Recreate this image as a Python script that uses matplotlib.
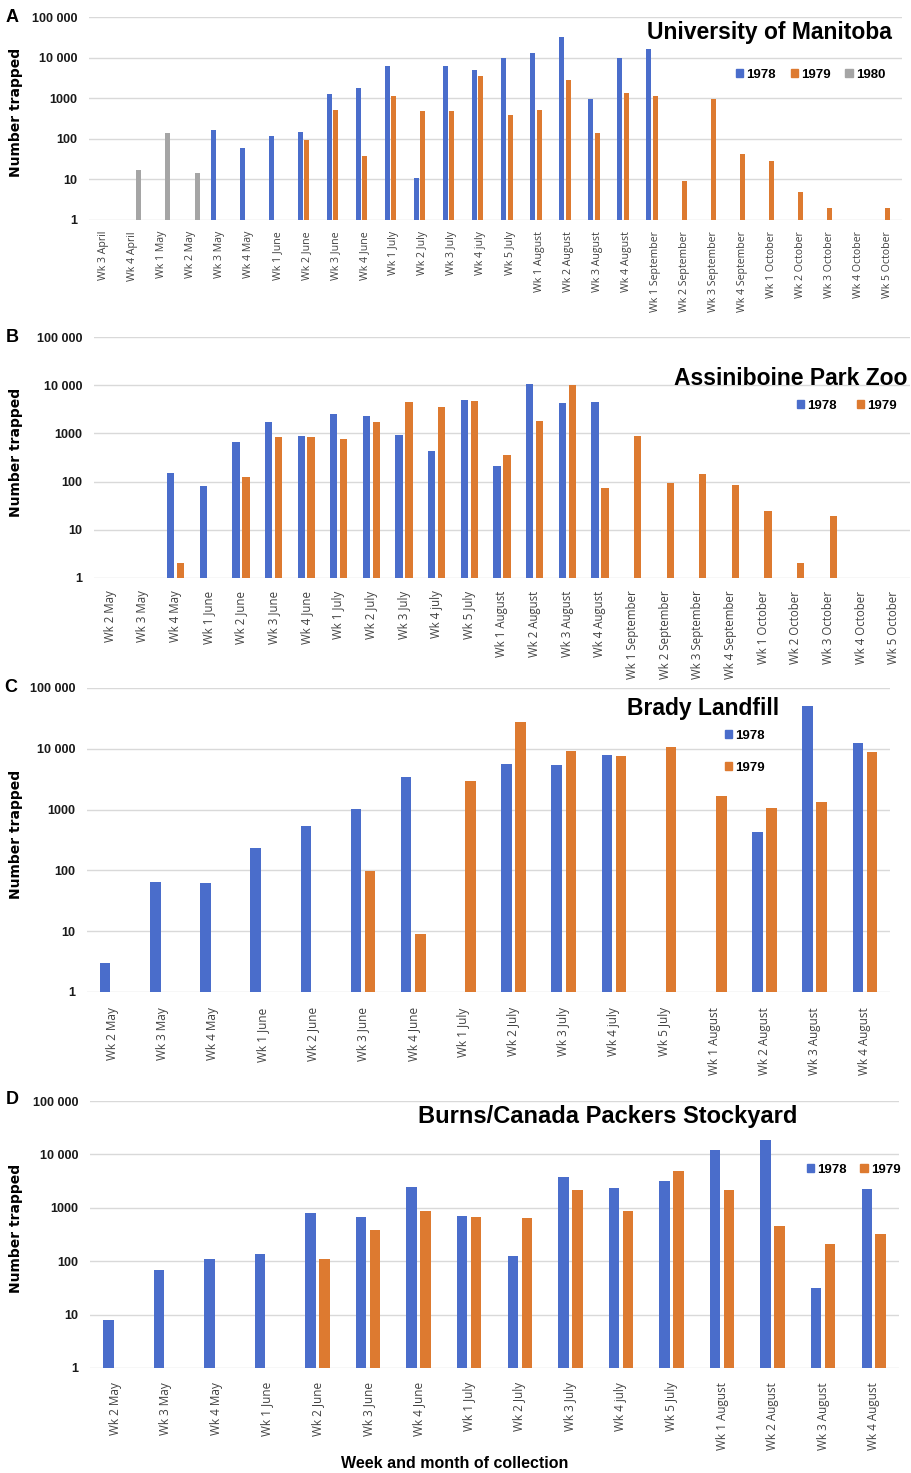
import numpy as np
import matplotlib
matplotlib.use("Agg")
import matplotlib.pyplot as plt
from matplotlib.patches import Patch
from matplotlib.ticker import NullLocator

nan = np.nan

# ---------------- data ----------------
weeks_A = ["Wk 3 April", "Wk 4 April", "Wk 1 May", "Wk 2 May", "Wk 3 May", "Wk 4 May",
           "Wk 1 June", "Wk 2 June", "Wk 3 June", "Wk 4 June", "Wk 1 July", "Wk 2 July",
           "Wk 3 July", "Wk 4 july", "Wk 5 July", "Wk 1 August", "Wk 2 August",
           "Wk 3 August", "Wk 4 August", "Wk 1 September", "Wk 2 September",
           "Wk 3 September", "Wk 4 September", "Wk 1 October", "Wk 2 October",
           "Wk 3 October", "Wk 4 October", "Wk 5 October"]
A_1978 = [nan, nan, nan, nan, 161, 60, 119, 146, 1250, 1820, 6300, 11, 6300, 4950, 9900,
          12900, 31800, 960, 9550, 16200, nan, nan, nan, nan, nan, nan, nan, nan]
A_1979 = [nan, nan, nan, nan, nan, nan, nan, 95, 525, 37, 1140, 480, 480, 3560, 390,
          515, 2800, 141, 1340, 1140, 9, 960, 43, 28, 5, 2, nan, 2]
A_1980 = [nan, 17, 141, 14, nan, nan, nan, nan, nan, nan, nan, nan, nan, nan, nan,
          nan, nan, nan, nan, nan, nan, nan, nan, nan, nan, nan, nan, nan]

weeks_B = ["Wk 2 May", "Wk 3 May", "Wk 4 May", "Wk 1 June", "Wk 2 June", "Wk 3 June",
           "Wk 4 June", "Wk 1 July", "Wk 2 July", "Wk 3 July", "Wk 4 july", "Wk 5 July",
           "Wk 1 August", "Wk 2 August", "Wk 3 August", "Wk 4 August", "Wk 1 September",
           "Wk 2 September", "Wk 3 September", "Wk 4 September", "Wk 1 October",
           "Wk 2 October", "Wk 3 October", "Wk 4 October", "Wk 5 October"]
B_1978 = [nan, nan, 150, 80, 650, 1700, 900, 2530, 2250, 930, 440, 5000, 215, 10700,
          4350, 4470, nan, nan, nan, nan, nan, nan, nan, nan, nan]
B_1979 = [nan, nan, 2, nan, 125, 850, 850, 765, 1750, 4400, 3600, 4700, 360, 1780,
          10000, 74, 870, 92, 146, 84, 25, 2, 19, nan, nan]

weeks_CD = ["Wk 2 May", "Wk 3 May", "Wk 4 May", "Wk 1 June", "Wk 2 June", "Wk 3 June",
            "Wk 4 June", "Wk 1 July", "Wk 2 July", "Wk 3 July", "Wk 4 july", "Wk 5 July",
            "Wk 1 August", "Wk 2 August", "Wk 3 August", "Wk 4 August"]
C_1978 = [3, 64, 61, 233, 540, 1040, 3500, nan, 5560, 5400, 7900, nan, nan, 430, 50000, 12400]
C_1979 = [nan, nan, nan, nan, nan, 98, 9, 3000, 28000, 9200, 7700, 10800, 1700, 1070, 1350, 8900]

D_1978 = [8, 67, 108, 138, 790, 660, 2430, 710, 126, 3850, 2350, 3110, 12000, 19000, 32, 2260]
D_1979 = [nan, nan, nan, nan, 109, 390, 880, 665, 645, 2200, 880, 4980, 2200, 465, 208, 320]

ytick_vals = [1, 10, 100, 1000, 10000, 100000]
ytick_text = ["1", "10", "100", "1000", "10 000", "100 000"]

BLUE = "#4A6DCB"
ORANGE = "#DD7A30"
GRAY = "#A5A5A5"

W, H = 911, 1473
fig = plt.figure(figsize=(W / 100, H / 100), dpi=100)
fig.patch.set_facecolor("white")

BOLD = "Liberation Sans"


def rect(x0, x1, ytop, ybot):
    return [x0 / W, 1 - ybot / H, (x1 - x0) / W, (ybot - ytop) / H]


def setup(ax, cats, xfs, xpad):
    ax.set_yscale("log")
    ax.set_ylim(1, 1e5)
    ax.set_xlim(-0.5, len(cats) - 0.5)
    ax.set_yticks(ytick_vals)
    ax.set_yticklabels(ytick_text, fontsize=9, fontweight="bold", family=BOLD, color="#1a1a1a")
    ax.yaxis.set_minor_locator(NullLocator())
    ax.set_xticks(np.arange(len(cats)))
    ax.set_xticklabels(cats, rotation=90, fontsize=xfs, family="Open Sans", color="#404040",
                       va="top", ha="center")
    ax.grid(axis="y", color="#D9D9D9", lw=1.0)
    ax.set_axisbelow(True)
    for s in ax.spines.values():
        s.set_visible(False)
    ax.tick_params(axis="both", length=0)
    ax.tick_params(axis="y", pad=8.5)
    ax.tick_params(axis="x", pad=xpad)


def ylab(x, y):
    fig.text(x / W, 1 - y / H, "Number trapped", rotation=90, ha="center", va="center",
             fontsize=10, fontweight="bold", family="DejaVu Sans")


def letter(x, y, s):
    fig.text(x / W, 1 - y / H, s, ha="left", va="center", fontsize=13, fontweight="bold",
             family=BOLD)


def legend(ax, handles, labels, x, y, ncol, colsp, lsp=0.5):
    ax.legend(handles, labels, loc="center left", bbox_to_anchor=(x / W, 1 - y / H),
              bbox_transform=fig.transFigure, ncol=ncol, frameon=False, borderpad=0,
              borderaxespad=0, handlelength=0.55, handleheight=0.55, handletextpad=0.25,
              columnspacing=colsp, labelspacing=lsp,
              prop={"family": BOLD, "weight": "bold", "size": 9.5})


# ---------------- Panel A ----------------
axA = fig.add_axes(rect(89, 902, 17, 220))
xA = np.arange(len(weeks_A))
wA, oA = 0.172, 0.22
axA.bar(xA - oA, A_1978, width=wA, color=BLUE)
axA.bar(xA, A_1979, width=wA, color=ORANGE)
axA.bar(xA + oA, A_1980, width=wA, color=GRAY)
setup(axA, weeks_A, 7.6, 8)
fig.text(892 / W, 1 - 33 / H, "University of Manitoba", ha="right", va="center",
         fontsize=16.5, fontweight="bold", family=BOLD)
legend(axA, [Patch(color=BLUE), Patch(color=ORANGE), Patch(color=GRAY)],
       ["1978", "1979", "1980"], 736, 75, 3, 1.1)
letter(6, 17, "A")
ylab(16, 112)

# ---------------- Panel B ----------------
axB = fig.add_axes(rect(94, 910, 337, 578))
xB = np.arange(len(weeks_B))
wB, oB = 0.224, 0.153
axB.bar(xB - oB, B_1978, width=wB, color=BLUE)
axB.bar(xB + oB, B_1979, width=wB, color=ORANGE)
setup(axB, weeks_B, 8.3, 9)
fig.text(907 / W, 1 - 378 / H, "Assiniboine Park Zoo", ha="right", va="center",
         fontsize=16.5, fontweight="bold", family=BOLD)
legend(axB, [Patch(color=BLUE), Patch(color=ORANGE)], ["1978", "1979"], 797, 406, 2, 1.5)
letter(6, 337, "B")
ylab(16, 452)

# ---------------- Panel C ----------------
axC = fig.add_axes(rect(87, 890, 688, 992))
xC = np.arange(len(weeks_CD))
wC, oC = 0.21, 0.14
axC.bar(xC - oC, C_1978, width=wC, color=BLUE)
axC.bar(xC + oC, C_1979, width=wC, color=ORANGE)
setup(axC, weeks_CD, 8.5, 11)
fig.text(627 / W, 1 - 709 / H, "Brady Landfill", ha="left", va="center",
         fontsize=16.5, fontweight="bold", family=BOLD)
legend(axC, [Patch(color=BLUE), Patch(color=ORANGE)], ["1978", "1979"], 725, 752, 1, 1.0,
       lsp=1.5)
letter(4, 688, "C")
ylab(16, 834)

# ---------------- Panel D ----------------
axD = fig.add_axes(rect(90, 899, 1101, 1368))
wD, oD = 0.207, 0.138
axD.bar(xC - oD, D_1978, width=wD, color=BLUE)
axD.bar(xC + oD, D_1979, width=wD, color=ORANGE)
setup(axD, weeks_CD, 8.5, 10)
fig.text(418 / W, 1 - 1117 / H, "Burns/Canada Packers Stockyard", ha="left", va="center",
         fontsize=17, fontweight="bold", family=BOLD)
legend(axD, [Patch(color=BLUE), Patch(color=ORANGE)], ["1978", "1979"], 807, 1170, 2, 1.0)
letter(6, 1100, "D")
ylab(16, 1228)

fig.text(455 / W, 1 - 1464 / H, "Week and month of collection", ha="center", va="center",
         fontsize=11.5, fontweight="bold", family=BOLD)

fig.savefig("out.png", dpi=100, facecolor="white")
